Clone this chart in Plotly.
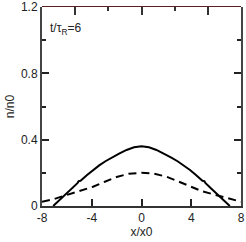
import plotly.graph_objects as go

# data
x_solid = [-7.1, -6.6, -6.1, -5.6, -5.15, -5.05, -4.9, -4.4, -3.9, -3.4, -2.9, -2.4, -1.8, -1.2, -0.6, 0.0,
           0.6, 1.2, 1.8, 2.4, 2.9, 3.4, 3.9, 4.4, 4.9, 5.05, 5.15, 5.6, 6.1, 6.6, 7.1]
y_solid = [0.0, 0.035, 0.068, 0.105, 0.138, 0.150, 0.152, 0.186, 0.217, 0.245, 0.270, 0.292, 0.316, 0.338, 0.354, 0.360,
           0.354, 0.338, 0.316, 0.292, 0.270, 0.245, 0.217, 0.186, 0.152, 0.150, 0.138, 0.105, 0.068, 0.035, 0.0]
x_dash = [-8.0, -7.1, -6.5, -5.5, -4.9, -3.9, -2.9, -2.0, -1.0, 0.0, 1.0, 2.0, 2.9, 3.9, 4.9, 5.5, 6.5, 7.1, 8.0]
y_dash = [0.026, 0.040, 0.055, 0.078, 0.092, 0.116, 0.148, 0.175, 0.195, 0.200, 0.195, 0.177, 0.150, 0.118, 0.088, 0.076, 0.056, 0.040, 0.026]
x_ticks = [-8, -4, 0, 4, 8]
y_ticks = [0, 0.4, 0.8, 1.2]
y_tick_text = ["0", "0.4", "0.8", "1.2"]
y_minor = [0.2, 0.6, 1.0]
top_ticks = [1, 3, 5]
top_minor = [2, 4]

fig = go.Figure()
fig.add_trace(go.Scatter(x=x_solid, y=y_solid, mode="lines",
                         line=dict(color="black", width=2), showlegend=False))
fig.add_trace(go.Scatter(x=x_dash, y=y_dash, mode="lines",
                         line=dict(color="black", width=2, dash="8px,5px"), showlegend=False))
# top-axis subplot (same area) carries the top tick marks
fig.add_trace(go.Scatter(x=[0, 6], y=[0, 1.2], xaxis="x2", yaxis="y2",
                         mode="markers", marker=dict(opacity=0), showlegend=False, hoverinfo="skip"))

font = dict(family="Liberation Sans, Arial, sans-serif", size=12, color="#222")

fig.update_layout(
    width=246, height=242,
    margin=dict(l=42, r=5, t=7, b=36),
    paper_bgcolor="white", plot_bgcolor="rgba(0,0,0,0)",
    font=font,
    xaxis=dict(range=[-8, 8], tickmode="array", tickvals=x_ticks, ticktext=[str(v) for v in x_ticks],
               ticks="inside", ticklen=7, tickwidth=2, tickcolor="#222",
               showline=True, linewidth=2, linecolor="#333", mirror=False,
               showgrid=False, zeroline=False, automargin=False,
               title=dict(text="x/x0", font=font, standoff=0)),
    yaxis=dict(range=[0, 1.2], tickmode="array", tickvals=y_ticks, ticktext=y_tick_text,
               ticks="inside", ticklen=7, tickwidth=2, tickcolor="#222",
               minor=dict(tickvals=y_minor, ticks="inside", ticklen=4, tickwidth=2, tickcolor="#222"),
               showline=True, linewidth=2, linecolor="#444", mirror="ticks",
               showgrid=False, zeroline=False, automargin=False,
               title=dict(text="n/n0", font=font, standoff=4)),
    xaxis2=dict(range=[0, 6], anchor="y2", side="top", domain=[0, 1], tickmode="array",
                tickvals=top_ticks, showticklabels=False,
                ticks="inside", ticklen=8, tickwidth=2, tickcolor="#333",
                minor=dict(tickvals=top_minor, ticks="inside", ticklen=4, tickwidth=2, tickcolor="#333"),
                showline=True, linewidth=1, linecolor="#5a2020", automargin=False,
                showgrid=False, zeroline=False),
    yaxis2=dict(range=[0, 1.2], anchor="x2", domain=[0, 1], visible=False, showgrid=False, zeroline=False),
    annotations=[dict(x=0.03, y=0.89, xref="paper", yref="paper", xanchor="left", yanchor="middle",
                      text="t/τ<sub>R</sub>=6", showarrow=False, font=font)],
)
fig.write_html("out.html", config={"displayModeBar": False},
               post_script="document.body.style.margin='0';document.body.style.overflow='hidden';")
